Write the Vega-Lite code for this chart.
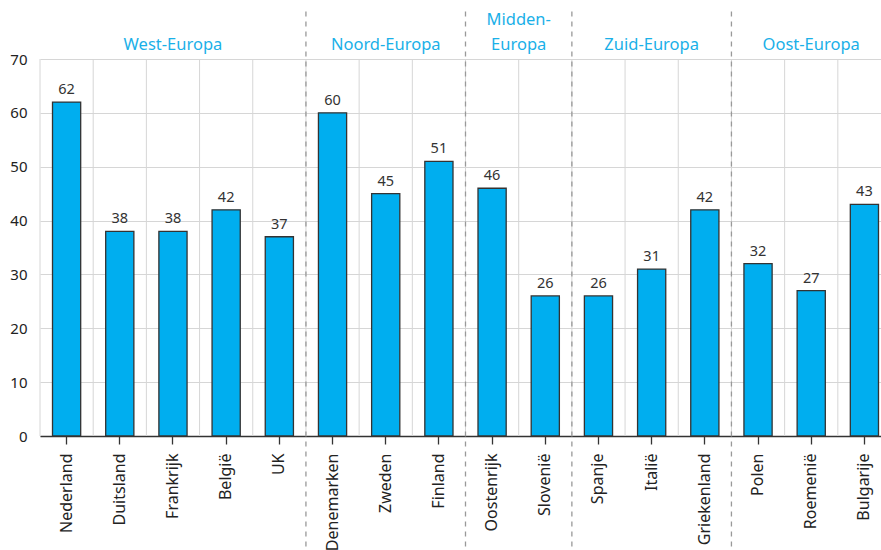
{
  "$schema": "https://vega.github.io/schema/vega-lite/v6.json",
  "width": 851,
  "height": 377,
  "autosize": {"type": "none"},
  "padding": {"left": 40, "top": 59, "right": 0, "bottom": 114},
  "background": "white",
  "config": {
    "view": {"stroke": null},
    "font": "Noto Sans",
    "axis": {"labelFont": "Noto Sans", "titleFont": "Noto Sans"},
    "axisX": {
      "labelAngle": -90,
      "labelAlign": "right",
      "labelBaseline": "middle",
      "labelFontSize": 16,
      "labelColor": "#222222",
      "labelPadding": 9,
      "tickColor": "#333333",
      "tickSize": 8,
      "tickWidth": 1.3,
      "domainColor": "#333333",
      "domainWidth": 1.5,
      "grid": false
    },
    "axisY": {
      "domain": false,
      "ticks": false,
      "grid": true,
      "gridColor": "#d6d6d6",
      "labelFontSize": 15,
      "labelColor": "#222222",
      "labelPadding": 13
    }
  },
  "data": {
    "values": [
      {"country": "Nederland", "value": 62, "group": "West-Europa"},
      {"country": "Duitsland", "value": 38, "group": "West-Europa"},
      {"country": "Frankrijk", "value": 38, "group": "West-Europa"},
      {"country": "België", "value": 42, "group": "West-Europa"},
      {"country": "UK", "value": 37, "group": "West-Europa"},
      {"country": "Denemarken", "value": 60, "group": "Noord-Europa"},
      {"country": "Zweden", "value": 45, "group": "Noord-Europa"},
      {"country": "Finland", "value": 51, "group": "Noord-Europa"},
      {"country": "Oostenrijk", "value": 46, "group": "Midden-Europa"},
      {"country": "Slovenië", "value": 26, "group": "Midden-Europa"},
      {"country": "Spanje", "value": 26, "group": "Zuid-Europa"},
      {"country": "Italië", "value": 31, "group": "Zuid-Europa"},
      {"country": "Griekenland", "value": 42, "group": "Zuid-Europa"},
      {"country": "Polen", "value": 32, "group": "Oost-Europa"},
      {"country": "Roemenië", "value": 27, "group": "Oost-Europa"},
      {"country": "Bulgarije", "value": 43, "group": "Oost-Europa"}
    ]
  },
  "layer": [
    {
      "mark": {"type": "rule", "color": "#d6d6d6", "strokeWidth": 1},
      "encoding": {
        "x": {"field": "country", "type": "nominal", "sort": null, "bandPosition": 0, "title": null, "scale": {"paddingInner": 0, "paddingOuter": 0}},
        "y": {"datum": 0, "type": "quantitative", "scale": {"domain": [0, 70], "nice": false}, "axis": {"title": null, "values": [0, 10, 20, 30, 40, 50, 60, 70]}},
        "y2": {"datum": 70}
      }
    },
    {
      "mark": {"type": "bar", "color": "#00aeef", "stroke": "#333333", "strokeWidth": 1.3, "width": {"band": 0.53}},
      "encoding": {
        "x": {"field": "country", "type": "nominal", "sort": null, "title": null},
        "y": {"field": "value", "type": "quantitative", "title": null}
      }
    },
    {
      "mark": {"type": "text", "dy": -8, "fontSize": 14.5, "color": "#333333", "baseline": "alphabetic"},
      "encoding": {
        "x": {"field": "country", "type": "nominal", "sort": null, "title": null},
        "y": {"field": "value", "type": "quantitative", "title": null},
        "text": {"field": "value", "type": "quantitative"}
      }
    },
    {
      "transform": [{"filter": {"field": "country", "oneOf": ["Denemarken", "Oostenrijk", "Spanje", "Polen"]}}],
      "mark": {"type": "rule", "color": "#999999", "strokeWidth": 1.3, "strokeDash": [5, 5]},
      "encoding": {
        "x": {"field": "country", "type": "nominal", "sort": null, "bandPosition": 0, "title": null},
        "y": {"datum": 78.8, "type": "quantitative"},
        "y2": {"datum": -22}
      }
    },
    {
      "transform": [{"filter": {"field": "country", "oneOf": ["Frankrijk", "Zweden", "Italië", "Roemenië"]}}],
      "mark": {"type": "text", "fontSize": 16.5, "color": "#1ab0e8", "baseline": "bottom"},
      "encoding": {
        "x": {"field": "country", "type": "nominal", "sort": null, "title": null},
        "y": {"datum": 71.2, "type": "quantitative"},
        "text": {"field": "group", "type": "nominal"}
      }
    },
    {
      "transform": [{"filter": {"field": "country", "equal": "Slovenië"}}],
      "mark": {"type": "text", "fontSize": 16.5, "color": "#1ab0e8", "baseline": "bottom", "lineHeight": 25},
      "encoding": {
        "x": {"field": "country", "type": "nominal", "sort": null, "bandPosition": 0, "title": null},
        "y": {"datum": 75.8, "type": "quantitative"},
        "text": {"value": ["Midden-", "Europa"]}
      }
    }
  ]
}
